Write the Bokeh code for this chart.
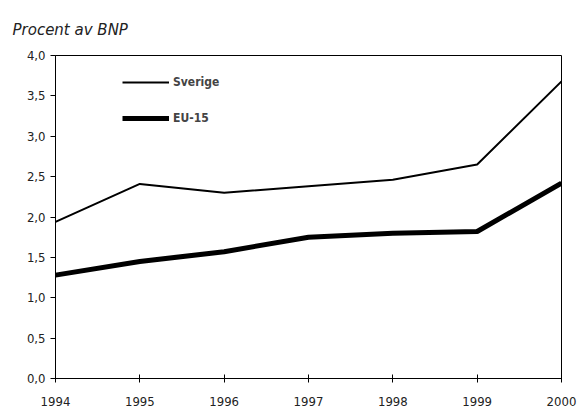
from bokeh.plotting import figure
from bokeh.models import Legend, LegendItem, CustomJSTickFormatter, FixedTicker, Range1d
from bokeh.embed import file_html
from bokeh.resources import INLINE

years = [1994, 1995, 1996, 1997, 1998, 1999, 2000]
sverige = [1.94, 2.41, 2.30, 2.38, 2.46, 2.65, 3.68]
eu15 = [1.28, 1.45, 1.57, 1.75, 1.80, 1.82, 2.42]
y_ticks = [0.0, 0.5, 1.0, 1.5, 2.0, 2.5, 3.0, 3.5, 4.0]

FONT = "DejaVu Sans Condensed"

p = figure(width=578, height=410, output_backend="svg", toolbar_location=None,
           x_range=Range1d(1994, 2000), y_range=Range1d(0, 4.0),
           min_border_left=55, min_border_right=17, min_border_top=55, min_border_bottom=32)
p.xgrid.visible = False
p.ygrid.visible = False
p.outline_line_color = "black"
p.outline_line_width = 1

p.title.text = "Procent av BNP"
p.title.text_font = "DejaVu Sans"
p.title.text_font_style = "italic"
p.title.text_font_size = "15px"
p.title.text_color = "#222222"
p.title.align = "left"
p.title.vertical_align = "top"
p.title.offset = -43
p.title.standoff = 29

r1 = p.line(years, sverige, line_color="black", line_width=2)
r2 = p.line(years, eu15, line_color="black", line_width=5)

p.xaxis.ticker = FixedTicker(ticks=years)
p.yaxis.ticker = FixedTicker(ticks=y_ticks)
p.yaxis.formatter = CustomJSTickFormatter(code="return tick.toFixed(1).replace('.', ',');")
for ax in (p.xaxis[0], p.yaxis[0]):
    ax.minor_tick_line_color = None
    ax.axis_line_color = "black"
    ax.major_tick_line_color = "black"
    ax.major_label_text_font = FONT
    ax.major_label_text_font_size = "13px"
    ax.major_label_text_color = "#222222"
p.xaxis.major_tick_in = 4
p.xaxis.major_tick_out = 4
p.xaxis.major_label_standoff = 14
p.yaxis.major_tick_in = 0
p.yaxis.major_tick_out = 5
p.yaxis.major_label_standoff = 5

legend = Legend(items=[LegendItem(label="Sverige", renderers=[r1]),
                       LegendItem(label="EU-15", renderers=[r2])],
                location=(67, 250), padding=0, margin=0, spacing=16,
                glyph_width=47, glyph_height=20, label_height=20, label_standoff=4,
                border_line_color=None, background_fill_alpha=0,
                label_text_font=FONT, label_text_font_style="bold", label_text_font_size="12px")
p.add_layout(legend, "center")

open("out.html", "w").write(file_html(p, INLINE))
